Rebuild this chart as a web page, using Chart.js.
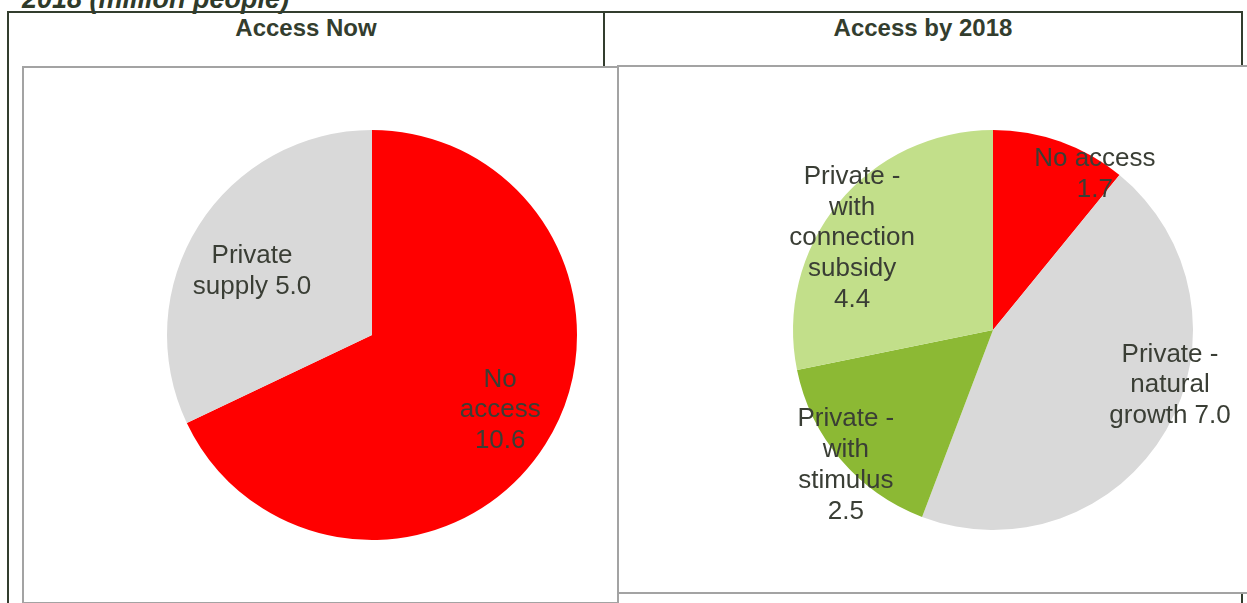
<!DOCTYPE html>
<html>
<head>
<meta charset="utf-8">
<script src="https://cdn.jsdelivr.net/npm/chart.js@4.4.1/dist/chart.umd.min.js"></script>
<style>
  html, body { margin: 0; padding: 0; background: #fff; }
  body { width: 1247px; height: 603px; overflow: hidden; position: relative; font-family: "Liberation Sans", Arial, sans-serif; }
  .title { position: absolute; left: 22px; top: -12px; font-size: 27px; line-height: 22px; font-weight: bold; font-style: italic; color: #2f3a2a; white-space: nowrap; }
  .frame { position: absolute; left: 7px; top: 11px; width: 1232px; height: 620px; border: 2px solid #333d2e; }
  .divider { position: absolute; left: 603px; top: 11px; width: 2px; height: 56px; background: #333d2e; }
  .head { position: absolute; top: 14px; font-size: 24px; font-weight: bold; color: #333d2e; text-align: center; }
  .box { position: absolute; background: #fff; border: 2px solid #a3a3a3; }
  canvas { position: absolute; }
</style>
</head>
<body>
<div class="title">2018 (million people)</div>
<div class="frame"></div>
<div class="divider"></div>
<div class="head" style="left:9px; width:594px;">Access Now</div>
<div class="head" style="left:605px; width:636px;">Access by 2018</div>
<div class="box" style="left:22px; top:66px; width:593px; height:534px;"></div>
<div class="box" style="left:617px; top:65px; width:640px; height:525px;"></div>
<canvas id="nowChart" style="left:24px; top:68px;" width="591" height="531"></canvas>
<canvas id="futureChart" style="left:619px; top:67px;" width="628" height="523"></canvas>
<script>
// Access now (million people)
const nowCategories = ['No access', 'Private supply'];
const nowValues = [10.6, 5.0];
const nowLabelText = ['No\naccess\n{v}', 'Private\nsupply {v}'];

// Access by 2018 (million people)
const futureCategories = ['No access', 'Private - natural growth', 'Private - with stimulus', 'Private - with connection subsidy'];
const futureValues = [1.7, 7.0, 2.5, 4.4];
const futureLabelText = ['No access\n{v}', 'Private -\nnatural\ngrowth {v}', 'Private -\nwith\nstimulus\n{v}', 'Private -\nwith\nconnection\nsubsidy\n{v}'];

// label placement (fraction of radius, angle shift in degrees) - Excel "best fit" look
const nowLabelPos = [[0.72, -2.6], [0.668, -3.5]];
const futureLabelPos = [[0.94, 13.2], [0.924, -13.3], [0.993, -1.8], [0.846, -5.6]];

const sliceLabels = {
  id: 'sliceLabels',
  afterDatasetsDraw(chart, args, opts) {
    const ctx = chart.ctx;
    const meta = chart.getDatasetMeta(0);
    const values = chart.data.datasets[0].data;
    ctx.save();
    ctx.font = '26px "Liberation Sans", Arial, sans-serif';
    ctx.fillStyle = '#3a3e35';
    ctx.textAlign = 'center';
    ctx.textBaseline = 'middle';
    meta.data.forEach((arc, i) => {
      const [frac, shift] = opts.pos[i];
      const mid = (arc.startAngle + arc.endAngle) / 2 + shift * Math.PI / 180;
      const cx = arc.x + Math.cos(mid) * arc.outerRadius * frac;
      const cy = arc.y + Math.sin(mid) * arc.outerRadius * frac + 2;
      const lines = opts.text[i].replace('{v}', values[i].toFixed(1)).split('\n');
      const lh = 30.7;
      lines.forEach((line, k) => {
        ctx.fillText(line, cx, cy + (k - (lines.length - 1) / 2) * lh);
      });
    });
    ctx.restore();
  }
};

function makePie(id, labels, values, colors, padding, text, pos) {
  return new Chart(document.getElementById(id), {
    type: 'pie',
    data: {
      labels: labels,
      datasets: [{ data: values, backgroundColor: colors, borderWidth: 0 }]
    },
    options: {
      responsive: false,
      animation: false,
      layout: { padding: padding },
      plugins: {
        legend: { display: false },
        tooltip: { enabled: false },
        sliceLabels: { text: text, pos: pos }
      }
    },
    plugins: [sliceLabels]
  });
}

makePie('nowChart', nowCategories, nowValues, ['#ff0000', '#d9d9d9'],
  { left: 143, right: 38, top: 62, bottom: 59 }, nowLabelText, nowLabelPos);

makePie('futureChart', futureCategories, futureValues, ['#ff0000', '#d9d9d9', '#8cb934', '#c2df8a'],
  { left: 174, right: 54, top: 63, bottom: 60 }, futureLabelText, futureLabelPos);
</script>
</body>
</html>
